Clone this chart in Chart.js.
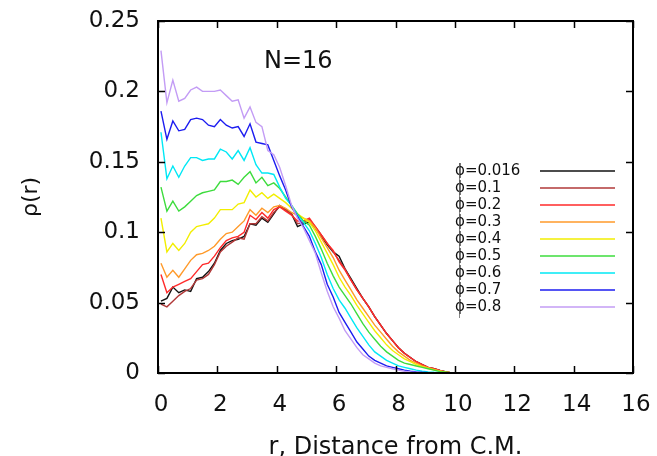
<!DOCTYPE html>
<html>
<head>
<meta charset="utf-8">
<script src="https://cdn.jsdelivr.net/npm/chart.js@4"></script>
<style>
html, body { margin: 0; padding: 0; background: #fff; }
</style>
</head>
<body>
<canvas id="c" width="657" height="456"></canvas>
<script>
const rValues = [0.1, 0.3, 0.5, 0.7, 0.9, 1.1, 1.3, 1.5, 1.7, 1.9, 2.1, 2.3, 2.5, 2.7, 2.9, 3.1, 3.3, 3.5, 3.7, 3.9,
    4.1, 4.3, 4.5, 4.7, 4.9, 5.1, 5.3, 5.5, 5.7, 5.9, 6.1, 6.3, 6.5, 6.7, 6.9, 7.1, 7.3, 7.5, 7.7, 7.9,
    8.1, 8.3, 8.5, 8.7, 8.9, 9.1, 9.3, 9.5, 9.7, 9.9]

const phi016 = [0.051, 0.053, 0.061, 0.057, 0.059, 0.058, 0.067, 0.068, 0.072, 0.078, 0.087, 0.092, 0.094, 0.095, 0.097, 0.106, 0.105, 0.110, 0.107, 0.113, 0.119, 0.116, 0.113,
    0.104, 0.106, 0.107, 0.103, 0.097, 0.091, 0.086, 0.083, 0.074, 0.067, 0.060, 0.053, 0.047, 0.040, 0.034, 0.028, 0.023, 0.018, 0.014, 0.011, 0.008, 0.006, 0.004, 0.003, 0.0018, 0.0008, 0]
const phi01 = [0.049, 0.047, 0.051, 0.055, 0.058, 0.060, 0.066, 0.067, 0.070, 0.077, 0.086, 0.090, 0.093, 0.096, 0.095, 0.106, 0.106, 0.111, 0.108, 0.114, 0.118, 0.116, 0.113,
    0.106, 0.107, 0.109, 0.104, 0.098, 0.092, 0.086, 0.080, 0.074, 0.066, 0.059, 0.053, 0.047, 0.040, 0.034, 0.028, 0.023, 0.018, 0.014, 0.011, 0.008, 0.006, 0.004, 0.003, 0.0018, 0.0008, 0]
const phi02 = [0.070, 0.057, 0.061, 0.063, 0.065, 0.067, 0.072, 0.077, 0.078, 0.083, 0.089, 0.094, 0.096, 0.097, 0.100, 0.112, 0.109, 0.114, 0.110, 0.116, 0.118, 0.115, 0.112,
    0.108, 0.108, 0.110, 0.104, 0.098, 0.092, 0.087, 0.079, 0.073, 0.066, 0.059, 0.053, 0.047, 0.040, 0.034, 0.028, 0.023, 0.018, 0.014, 0.011, 0.008, 0.006, 0.004, 0.003, 0.0017, 0.0007, 0]
const phi03 = [0.078, 0.068, 0.073, 0.068, 0.074, 0.080, 0.084, 0.085, 0.087, 0.090, 0.095, 0.099, 0.100, 0.104, 0.108, 0.116, 0.112, 0.117, 0.114, 0.118, 0.119, 0.117, 0.114,
    0.112, 0.110, 0.108, 0.103, 0.096, 0.089, 0.082, 0.073, 0.066, 0.059, 0.052, 0.046, 0.040, 0.034, 0.029, 0.024, 0.019, 0.015, 0.012, 0.009, 0.007, 0.005, 0.0037, 0.0025, 0.0015, 0.0006, 0]
const phi04 = [0.110, 0.086, 0.092, 0.087, 0.092, 0.100, 0.104, 0.105, 0.106, 0.110, 0.116, 0.116, 0.116, 0.120, 0.121, 0.130, 0.125, 0.128, 0.124, 0.127, 0.124, 0.121, 0.117,
    0.113, 0.110, 0.107, 0.101, 0.093, 0.085, 0.077, 0.068, 0.061, 0.055, 0.048, 0.042, 0.036, 0.030, 0.025, 0.020, 0.016, 0.013, 0.010, 0.008, 0.006, 0.0045, 0.0033, 0.0022, 0.0012, 0.0005, 0]
const phi05 = [0.132, 0.115, 0.122, 0.115, 0.118, 0.122, 0.126, 0.128, 0.129, 0.130, 0.136, 0.136, 0.137, 0.134, 0.139, 0.143, 0.135, 0.139, 0.133, 0.135, 0.131, 0.125, 0.119,
    0.113, 0.108, 0.105, 0.097, 0.088, 0.078, 0.069, 0.061, 0.055, 0.049, 0.042, 0.035, 0.029, 0.024, 0.019, 0.015, 0.012, 0.009, 0.007, 0.006, 0.005, 0.004, 0.003, 0.002, 0.001, 0.0005, 0]
const phi06 = [0.171, 0.138, 0.147, 0.139, 0.147, 0.153, 0.153, 0.151, 0.152, 0.152, 0.159, 0.157, 0.152, 0.158, 0.151, 0.160, 0.148, 0.142, 0.142, 0.141, 0.132, 0.124, 0.119,
    0.112, 0.107, 0.101, 0.092, 0.082, 0.070, 0.060, 0.052, 0.046, 0.039, 0.032, 0.026, 0.020, 0.015, 0.012, 0.009, 0.007, 0.005, 0.004, 0.003, 0.002, 0.0013, 0.0008, 0.0005, 0.0003, 0.0001, 0]
const phi07 = [0.186, 0.166, 0.179, 0.172, 0.173, 0.180, 0.181, 0.180, 0.176, 0.175, 0.180, 0.176, 0.174, 0.175, 0.168, 0.177, 0.164, 0.163, 0.162, 0.151, 0.140, 0.130, 0.118,
    0.111, 0.104, 0.097, 0.086, 0.077, 0.063, 0.054, 0.043, 0.036, 0.029, 0.022, 0.017, 0.012, 0.009, 0.007, 0.005, 0.004, 0.003, 0.002, 0.0013, 0.0008, 0.0005, 0.0003, 0.0002, 0.0001, 0.0001, 0]
const phi08 = [0.229, 0.192, 0.208, 0.193, 0.195, 0.201, 0.203, 0.200, 0.200, 0.200, 0.201, 0.197, 0.193, 0.194, 0.181, 0.189, 0.178, 0.175, 0.158, 0.155, 0.146, 0.133, 0.119,
    0.110, 0.103, 0.094, 0.085, 0.071, 0.058, 0.047, 0.039, 0.030, 0.024, 0.018, 0.013, 0.010, 0.007, 0.005, 0.004, 0.003, 0.002, 0.0012, 0.0007, 0.0004, 0.0002, 0.0001, 0.0001, 0, 0, 0]

const seriesLabels = ["ϕ=0.016", "ϕ=0.1", "ϕ=0.2", "ϕ=0.3", "ϕ=0.4", "ϕ=0.5", "ϕ=0.6", "ϕ=0.7", "ϕ=0.8"]
const seriesValues = [phi016, phi01, phi02, phi03, phi04, phi05, phi06, phi07, phi08]
const seriesColors = ["#111111", "#b03838", "#ff2a2a", "#ff9a2a", "#f2ee00", "#3ddc3d", "#00e8f5", "#1c1cf0", "#c39cf5"]

const xTicks = [0, 2, 4, 6, 8, 10, 12, 14, 16]
const yTicks = [0, 0.05, 0.1, 0.15, 0.2, 0.25]

const FONT = "DejaVu Sans"
const PAD = { left: 10, top: 21, right: 24, bottom: 0 }

// box round the plot with inward ticks on all four sides
const framePlugin = {
    id: "frame",
    afterDraw(chart) {
        const { ctx, chartArea: a, scales: { x, y } } = chart
        ctx.save()
        ctx.strokeStyle = "#000000"
        ctx.lineWidth = 2
        ctx.strokeRect(a.left, a.top, a.right - a.left, a.bottom - a.top)
        ctx.lineWidth = 1.5
        for (const v of xTicks) {
            const px = Math.round(x.getPixelForValue(v)) + 0.5
            ctx.beginPath()
            ctx.moveTo(px, a.bottom); ctx.lineTo(px, a.bottom - 7)
            ctx.moveTo(px, a.top); ctx.lineTo(px, a.top + 7)
            ctx.stroke()
        }
        for (const v of yTicks) {
            const py = Math.round(y.getPixelForValue(v)) + 0.5
            ctx.beginPath()
            ctx.moveTo(a.left, py); ctx.lineTo(a.left + 7, py)
            ctx.moveTo(a.right, py); ctx.lineTo(a.right - 7, py)
            ctx.stroke()
        }
        ctx.restore()
    }
}

// the N=16 note and the key
const notesPlugin = {
    id: "notes",
    afterDraw(chart) {
        const { ctx, scales: { x, y } } = chart
        ctx.save()
        ctx.fillStyle = "#111"
        ctx.font = "24px '" + FONT + "'"
        ctx.textBaseline = "middle"
        ctx.textAlign = "left"
        ctx.fillText("N=16", x.getPixelForValue(3.57), y.getPixelForValue(0.221))

        ctx.font = "15px '" + FONT + "'"
        chart.data.datasets.forEach((ds, i) => {
            const ly = 171 + i * 17
            ctx.fillStyle = "#111"
            ctx.fillText(ds.label, 455, ly)
            ctx.strokeStyle = ds.borderColor
            ctx.lineWidth = 1.3
            ctx.beginPath()
            ctx.moveTo(540, ly); ctx.lineTo(615, ly)
            ctx.stroke()
        })
        // stray vertical stroke that runs through the key symbols
        ctx.strokeStyle = "#666"
        ctx.lineWidth = 0.8
        ctx.beginPath()
        ctx.moveTo(459.5, 163); ctx.lineTo(459.5, 318)
        ctx.stroke()
        ctx.restore()
    }
}

new Chart(document.getElementById("c"), {
    type: "line",
    data: {
        datasets: seriesValues.map((vals, i) => ({
            label: seriesLabels[i],
            data: vals.map((v, k) => ({ x: rValues[k], y: v })),
            borderColor: seriesColors[i],
            borderWidth: 1.4,
            pointRadius: 0,
            fill: false,
            tension: 0,
            order: seriesValues.length - i
        }))
    },
    options: {
        responsive: false,
        animation: false,
        devicePixelRatio: 1,
        layout: { padding: PAD },
        plugins: {
            legend: { display: false },
            tooltip: { enabled: false }
        },
        scales: {
            x: {
                type: "linear",
                min: 0,
                max: 16,
                afterBuildTicks: s => { s.ticks = xTicks.map(v => ({ value: v })) },
                afterFit: s => {
                    s.height = 456 - 373 - PAD.bottom
                    s.paddingLeft = 0
                    s.paddingRight = 0
                },
                ticks: {
                    color: "#111",
                    font: { family: FONT, size: 23 },
                    padding: 18,
                    labelOffset: 3,
                    maxRotation: 0
                },
                grid: { display: false, drawTicks: false },
                border: { display: false },
                title: {
                    display: true,
                    text: "r, Distance from C.M.",
                    color: "#111",
                    font: { family: FONT, size: 24 },
                    padding: { top: 0, bottom: -6 }
                }
            },
            y: {
                min: 0,
                max: 0.25,
                afterBuildTicks: s => { s.ticks = yTicks.map(v => ({ value: v })) },
                afterFit: s => {
                    s.width = 158 - PAD.left
                    s.paddingTop = 0
                    s.paddingBottom = 0
                },
                ticks: {
                    color: "#111",
                    font: { family: FONT, size: 23 },
                    padding: 18,
                    callback: v => String(+v.toFixed(2))
                },
                grid: { display: false, drawTicks: false },
                border: { display: false },
                title: {
                    display: true,
                    text: "ρ(r)",
                    color: "#111",
                    font: { family: FONT, size: 22 },
                    padding: { top: 8, bottom: 0 }
                }
            }
        }
    },
    plugins: [framePlugin, notesPlugin]
})
</script>
</body>
</html>
